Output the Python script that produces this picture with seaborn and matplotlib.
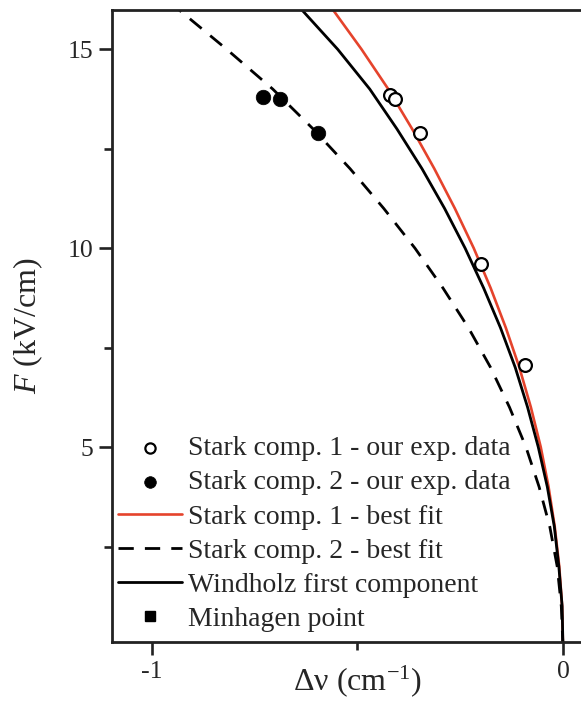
import numpy as np
import pandas as pd
import matplotlib
matplotlib.use("Agg")
import matplotlib.pyplot as plt
import seaborn as sns

# ---- data ----
comp1_shift = [-0.421, -0.409, -0.348, -0.200, -0.092]
comp1_field = [13.84, 13.74, 12.89, 9.60, 7.06]

comp2_shift = [-0.730, -0.689, -0.596]
comp2_field = [13.79, 13.74, 12.89]

fit_field = [0, 1, 2, 3, 4, 5, 6, 7, 8, 9, 10, 11, 12, 13, 14, 15, 16]
fit1_shift = [0.0, -0.002, -0.009, -0.020, -0.035, -0.054, -0.078, -0.106, -0.139,
              -0.176, -0.217, -0.263, -0.313, -0.367, -0.425, -0.490, -0.560]
fit2_shift = [0.0, -0.004, -0.014, -0.032, -0.058, -0.090, -0.130, -0.176, -0.230,
              -0.292, -0.360, -0.436, -0.518, -0.608, -0.706, -0.818, -0.935]
windholz_shift = [0.0, -0.002, -0.010, -0.021, -0.038, -0.060, -0.086, -0.116, -0.152,
                  -0.193, -0.238, -0.288, -0.343, -0.404, -0.470, -0.548, -0.636]

labels = ["Stark comp. 1 - our exp. data", "Stark comp. 2 - our exp. data",
          "Stark comp. 1 - best fit", "Stark comp. 2 - best fit",
          "Windholz first component", "Minhagen point"]

x_ticks = [-1, 0]
x_ticklabels = ["-1", "0"]
y_ticks = [5, 10, 15]
y_ticklabels = ["5", "10", "15"]

# ---- style ----
sns.set_style("ticks")
plt.rcParams["font.family"] = ["Liberation Serif", "DejaVu Serif"]
plt.rcParams["mathtext.fontset"] = "custom"
plt.rcParams["mathtext.rm"] = "Liberation Serif"
plt.rcParams["mathtext.it"] = "Liberation Serif:italic"
plt.rcParams["axes.unicode_minus"] = False

RED = "#E5432C"

fig = plt.figure(figsize=(5.81, 7.04), dpi=100)
W, H = 581, 704
ax = fig.add_axes([112 / W, 1 - 642 / H, (602 - 112) / W, (642 - 9.5) / H])

fits = pd.DataFrame({"F": fit_field, "fit1": fit1_shift, "fit2": fit2_shift,
                     "wind": windholz_shift})

sns.lineplot(data=fits, x="fit1", y="F", sort=False, ax=ax, color=RED, lw=1.9,
             label=labels[2])
sns.lineplot(data=fits, x="fit2", y="F", sort=False, ax=ax, color="black", lw=2.0,
             label=labels[3])
sns.lineplot(data=fits, x="wind", y="F", sort=False, ax=ax, color="black", lw=2.0,
             label=labels[4])
ax.lines[1].set_dashes((5.5, 4))

sns.scatterplot(x=comp1_shift, y=comp1_field, ax=ax, marker="o", s=85,
                facecolor="white", edgecolor="black", linewidth=1.6,
                label=labels[0], zorder=5)
sns.scatterplot(x=comp2_shift, y=comp2_field, ax=ax, marker="o", s=110,
                color="black", edgecolor="black", linewidth=0.5,
                label=labels[1], zorder=5)
ax.plot([], [], "s", color="black", markersize=9, label=labels[5])

ax.set_xlim(-1.097, 0.095)
ax.set_ylim(0.1, 16.0)

ax.set_xticks(x_ticks)
ax.set_xticklabels(x_ticklabels)
ax.set_xticks([-0.5], minor=True)
ax.set_yticks(y_ticks)
ax.set_yticklabels(y_ticklabels)
ax.set_yticks([2.5, 7.5, 12.5], minor=True)

ax.tick_params(which="major", direction="out", length=9.5, width=1.9,
               labelsize=18.5, pad=4, color="#222222")
ax.tick_params(which="minor", direction="out", length=5.5, width=1.9,
               color="#222222")
for s in ["left", "bottom", "top", "right"]:
    ax.spines[s].set_linewidth(2.0)
    ax.spines[s].set_color("#222222")

ax.set_xlabel("Δν (cm$^{-1}$)", fontsize=23)
ax.set_ylabel("$F$ (kV/cm)", fontsize=23)
ax.xaxis.set_label_coords(0.5, -0.034)
ax.yaxis.set_label_coords(-0.137, 0.5)

handles, labs = ax.get_legend_handles_labels()
order = [labs.index(l) for l in labels]
leg = ax.legend([handles[i] for i in order], [labs[i] for i in order],
                loc="upper left", bbox_to_anchor=(118 / W, 1 - 436 / H),
                bbox_transform=fig.transFigure, frameon=False, fontsize=20,
                handlelength=2.3, handletextpad=0.22, labelspacing=0.31,
                borderpad=0, borderaxespad=0, markerscale=0.8)

fig.savefig("out.png", dpi=100)
